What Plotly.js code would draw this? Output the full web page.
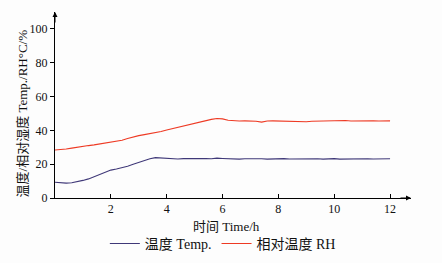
<!DOCTYPE html>
<html><head><meta charset="utf-8">
<script src="https://cdn.plot.ly/plotly-3.0.1.min.js"></script>
<style>html,body{margin:0;padding:0;background:#fff;}#chart{width:442px;height:263px;}</style>
</head><body><div id="chart"></div>
<script>
const timeH = [0,0.2,0.4,0.6,0.8,1.0,1.2,1.4,1.6,1.8,2.0,2.2,2.4,2.6,2.8,3.0,3.2,3.4,3.6,3.8,4.0,4.2,4.4,4.6,4.8,5.0,5.2,5.4,5.6,5.8,6.0,6.2,6.4,6.6,6.8,7.0,7.2,7.4,7.6,7.8,8.0,8.2,8.4,8.6,8.8,9.0,9.2,9.4,9.6,9.8,10.0,10.2,10.4,10.6,10.8,11.0,11.2,11.4,11.6,11.8,12.0];
const temp = [9.3,8.9,8.8,9.0,9.6,10.4,11.3,12.5,13.8,15.2,16.5,17.2,17.9,18.8,19.9,21.0,22.2,23.2,23.9,23.6,23.3,23.3,23.1,23.3,23.4,23.2,23.5,23.3,23.2,23.6,23.4,23.2,23.3,23.0,23.2,23.3,23.1,23.2,23.0,23.2,23.1,23.3,23.1,23.2,23.0,23.2,23.1,23.2,23.0,23.2,23.3,23.0,23.1,23.2,23.1,23.2,23.2,23.1,23.0,23.2,23.2];
const rh = [28.4,28.6,29.0,29.5,30.1,30.7,31.0,31.4,31.9,32.4,32.8,33.5,34.2,35.2,36.2,36.9,37.5,38.0,38.5,39.3,40.2,41.0,41.9,42.8,43.6,44.3,45.0,45.8,46.5,47.0,46.8,46.0,45.6,45.5,45.6,45.6,45.4,44.9,45.5,45.6,45.5,45.6,45.4,45.3,45.0,45.1,45.4,45.5,45.6,45.4,45.7,45.6,45.8,45.5,45.6,45.4,45.5,45.6,45.5,45.6,45.6];
const xTicks = [2,4,6,8,10,12];
const yTicks = [0,20,40,60,80,100];
const seriesNames = ['温度 Temp.', '相对温度 RH'];
const xTitle = '时间 Time/h';
const yTitle = '温度/相对湿度 Temp./RH°C/%';

const fontFam = '"Liberation Serif", "Noto Sans CJK SC", serif';
const traces = [
  {x: timeH, y: temp, name: seriesNames[0], mode: 'lines', line: {color: '#3f3878', width: 1.1}},
  {x: timeH, y: rh, name: seriesNames[1], mode: 'lines', line: {color: '#ee3a24', width: 1.1}}
];
const layout = {
  width: 442, height: 263,
  margin: {l: 55, r: 31, t: 12, b: 65, autoexpand: false},
  paper_bgcolor: '#fdfdfd', plot_bgcolor: '#fdfdfd',
  font: {family: fontFam, size: 12, color: '#111'},
  showlegend: true,
  legend: {orientation: 'h', x: 0.14, xanchor: 'left', y: -0.247, yanchor: 'middle',
           font: {family: fontFam, size: 14, color: '#111'}, bgcolor: 'rgba(0,0,0,0)', itemwidth: 30, tracegroupgap: 0},
  xaxis: {range: [0, 12.75], tickvals: xTicks, ticks: 'inside', ticklen: 4, tickcolor: '#000',
          showline: true, linecolor: '#000', linewidth: 1, showgrid: false, zeroline: false,
          tickfont: {family: fontFam, size: 12, color: '#111'}},
  yaxis: {range: [0, 110], tickvals: yTicks, ticks: 'outside', ticklen: 4, tickcolor: '#000',
          showline: true, linecolor: '#000', linewidth: 1, showgrid: false, zeroline: false,
          tickfont: {family: fontFam, size: 12, color: '#111'}},
  annotations: [
    {x: 12.75, y: 0, xref: 'x', yref: 'y', ax: -12, ay: 0, text: '', showarrow: true, arrowhead: 2, arrowsize: 1, arrowwidth: 1, arrowcolor: '#000'},
    {x: 0, y: 110, xref: 'x', yref: 'y', ax: 0, ay: 12, text: '', showarrow: true, arrowhead: 2, arrowsize: 1, arrowwidth: 1, arrowcolor: '#000'},
    {x: 6.14, y: 0, xref: 'x', yref: 'y', yshift: -28, text: xTitle, showarrow: false, font: {family: fontFam, size: 13, color: '#111'}},
    {x: 0, y: 50, xref: 'x', yref: 'y', xshift: -33, text: yTitle, textangle: -90, showarrow: false, font: {family: fontFam, size: 13, color: '#111'}}
  ]
};
Plotly.newPlot('chart', traces, layout, {staticPlot: true, displayModeBar: false});
</script></body></html>
